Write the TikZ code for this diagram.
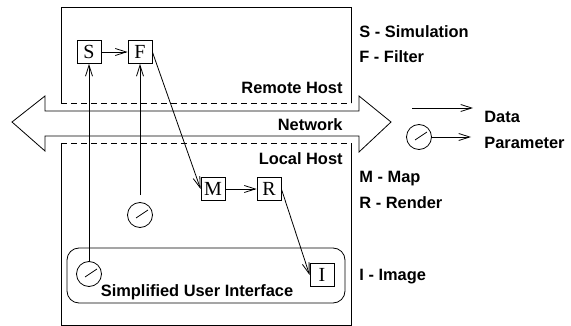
\documentclass[tikz,border=0pt]{standalone}
\usepackage{fontspec}
\setmainfont{Liberation Serif}
\setsansfont{Liberation Sans}
\usepackage{tikz}
\usetikzlibrary{arrows.meta}

\begin{document}
\begin{tikzpicture}[x=1pt,y=-1pt,line width=0.8pt,
    >={Straight Barb[length=11pt,width=7pt]},
    module/.style={draw,minimum width=24pt,minimum height=23pt,inner sep=0pt,font=\fontsize{20}{20}\selectfont},
    knob/.style={draw,circle,minimum size=25pt,inner sep=0pt,
        path picture={\draw ([shift={(-4pt,-3pt)}]path picture bounding box.center) -- ([shift={(8pt,5pt)}]path picture bounding box.center);}},
    lbl/.style={font=\sffamily\bfseries\fontsize{16.4}{18}\selectfont,inner sep=0pt}]
    \useasboundingbox (0,0) rectangle (571,326);
    % hosts
    \draw (61,103) -- (61,7) -- (351,7) -- (351,103);
    \draw[dash pattern=on 6pt off 4pt] (61,103) -- (351,103);
    \draw[dash pattern=on 6pt off 4pt] (61,143) -- (351,143);
    \draw (61,143) -- (61,325) -- (351,325) -- (351,143);
    % network
    \draw (12,122) -- (45,96) -- (45,111) -- (359,111) -- (359,96) -- (391,122)
        -- (359,152) -- (359,136) -- (45,136) -- (45,151) -- cycle;
    \node[lbl,anchor=east] (remote) at (343,88) {Remote Host};
    \node[lbl,anchor=east] (net) at (343,125) {Network};
    \node[lbl,anchor=east] (local) at (343,159) {Local Host};
    % user interface
    \draw[rounded corners=12pt] (67,248) rectangle (345,303);
    \node[lbl] (ui) at (197,292) {Simplified User Interface};
    % modules
    \node[module] (S) at (89,52) {S};
    \node[module] (F) at (140,52) {F};
    \node[module] (M) at (213,189) {M};
    \node[module] (R) at (269,189) {R};
    \node[module] (I) at (322,275) {I};
    \node[knob] (k1) at (89,274) {};
    \node[knob] (k2) at (140,215) {};
    \draw[->] (S) -- (F);
    \draw[->] (k1) -- (S);
    \draw[->,shorten <=7pt] (k2) -- (F);
    \draw[->] (F.east) -- (M.west);
    \draw[->] (M) -- (R);
    \draw[->] (R.east) -- (I.west);
    % legend
    \node[lbl,anchor=west] (ls) at (359,32) {S - Simulation};
    \node[lbl,anchor=west] (lf) at (359,57) {F - Filter};
    \node[lbl,anchor=west] (lm) at (359,179) {M - Map};
    \node[lbl,anchor=west] (lr) at (359,203) {R - Render};
    \node[lbl,anchor=west] (li) at (359,277) {I - Image};
    \coordinate (d1) at (412,108);
    \coordinate (d2) at (473,108);
    \draw[->] (d1) -- (d2);
    \node[knob] (kp) at (419,137) {};
    \coordinate (p2) at (471,137);
    \draw[->] (kp) -- (p2);
    \node[lbl,anchor=west] (ld) at (484,117) {Data};
    \node[lbl,anchor=west] (lp) at (484,143) {Parameter};
\end{tikzpicture}
\end{document}
